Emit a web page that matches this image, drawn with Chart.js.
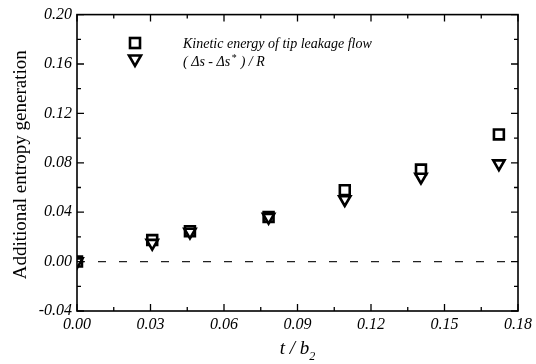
<!DOCTYPE html>
<html>
<head>
<meta charset="utf-8">
<script src="https://cdn.jsdelivr.net/npm/chart.js@4"></script>
<style>
  html, body { margin: 0; padding: 0; background: #fff; }
  #wrap { width: 536px; height: 364px; }
</style>
</head>
<body>
<div id="wrap"><canvas id="chart"></canvas></div>
<script>
// data
const tipGap = [0.0, 0.0307, 0.0461, 0.0782, 0.1093, 0.1404, 0.1722]; // t / b2
const kineticEnergy = [0.0, 0.0174, 0.0246, 0.0362, 0.0578, 0.0745, 0.103];
const entropyDiff = [0.0, 0.0150, 0.0240, 0.0360, 0.0503, 0.0685, 0.0793];
const zeroLine = [0.0, 0.18];
const xTicks = [0.00, 0.03, 0.06, 0.09, 0.12, 0.15, 0.18];
const yTicks = [-0.04, 0.00, 0.04, 0.08, 0.12, 0.16, 0.20];

const serif = '"Liberation Serif", "Times New Roman", serif';

const toPoints = (xs, ys) => xs.map((x, i) => ({ x: x, y: ys[i] }));

// inward ticks on all four sides, frame, axis titles and legend
const decor = {
  id: "decor",
  afterDraw(chart) {
    const { ctx, chartArea: a, scales } = chart;
    const xs = scales.x, ys = scales.y;
    ctx.save();
    ctx.strokeStyle = "#000";
    ctx.lineWidth = 1.6;
    ctx.strokeRect(a.left, a.top, a.right - a.left, a.bottom - a.top);

    ctx.lineWidth = 1.3;
    ctx.beginPath();
    for (let i = 0; i < xTicks.length; i++) {
      const px = xs.getPixelForValue(xTicks[i]);
      ctx.moveTo(px, a.bottom); ctx.lineTo(px, a.bottom - 7);
      ctx.moveTo(px, a.top); ctx.lineTo(px, a.top + 7);
      if (i < xTicks.length - 1) {
        const mx = xs.getPixelForValue((xTicks[i] + xTicks[i + 1]) / 2);
        ctx.moveTo(mx, a.bottom); ctx.lineTo(mx, a.bottom - 4);
        ctx.moveTo(mx, a.top); ctx.lineTo(mx, a.top + 4);
      }
    }
    for (let i = 0; i < yTicks.length; i++) {
      const py = ys.getPixelForValue(yTicks[i]);
      ctx.moveTo(a.left, py); ctx.lineTo(a.left + 7, py);
      ctx.moveTo(a.right, py); ctx.lineTo(a.right - 7, py);
      if (i < yTicks.length - 1) {
        const my = ys.getPixelForValue((yTicks[i] + yTicks[i + 1]) / 2);
        ctx.moveTo(a.left, my); ctx.lineTo(a.left + 4, my);
        ctx.moveTo(a.right, my); ctx.lineTo(a.right - 4, my);
      }
    }
    ctx.stroke();

    ctx.fillStyle = "#000";
    // y axis title
    ctx.save();
    ctx.translate(21, (a.top + a.bottom) / 2 + 2);
    ctx.rotate(-Math.PI / 2);
    ctx.font = "19px " + serif;
    ctx.textAlign = "center";
    ctx.textBaseline = "middle";
    ctx.fillText("Additional entropy generation", 0, 0);
    ctx.restore();

    // x axis title: t / b2
    ctx.font = "italic 19px " + serif;
    ctx.textBaseline = "alphabetic";
    ctx.textAlign = "left";
    const main = "t / b";
    const w = ctx.measureText(main).width;
    const cx = (a.left + a.right) / 2;
    const x0 = cx - (w + 6) / 2;
    ctx.fillText(main, x0, 354);
    ctx.font = "italic 12px " + serif;
    ctx.fillText("2", x0 + w, 360);

    // legend
    const lx = 135;
    ctx.lineWidth = 2.6;
    ctx.fillStyle = "#fff";
    ctx.fillRect(lx - 5, 38, 10, 10);
    ctx.strokeRect(lx - 5, 38, 10, 10);
    ctx.beginPath();
    ctx.moveTo(lx - 6, 55.5);
    ctx.lineTo(lx + 6, 55.5);
    ctx.lineTo(lx, 66);
    ctx.closePath();
    ctx.fill();
    ctx.stroke();

    ctx.fillStyle = "#000";
    ctx.font = "italic 14px " + serif;
    ctx.fillText("Kinetic energy of tip leakage flow", 183, 48);
    let tx = 183;
    const part1 = "( \u0394s - \u0394s";
    ctx.fillText(part1, tx, 66);
    tx += ctx.measureText(part1).width + 1;
    ctx.font = "italic 10px " + serif;
    ctx.fillText("*", tx, 61);
    tx += ctx.measureText("*").width + 1;
    ctx.font = "italic 14px " + serif;
    ctx.fillText(" ) / R", tx, 66);
    ctx.restore();
  }
};

const ctx = document.getElementById("chart").getContext("2d");
const myChart = new Chart(ctx, {
  type: "scatter",
  data: {
    datasets: [
      {
        type: "line",
        label: "zero",
        data: toPoints(zeroLine, [0, 0]),
        borderColor: "#222",
        borderWidth: 1.3,
        borderDash: [8, 13],
        pointRadius: 0,
        fill: false,
        order: 3,
      },
      {
        label: "Kinetic energy of tip leakage flow",
        data: toPoints(tipGap, kineticEnergy),
        pointStyle: "rect",
        pointRadius: 7,
        pointBorderWidth: 2.6,
        borderColor: "#000",
        backgroundColor: "#fff",
        order: 2,
      },
      {
        label: "(Δs - Δs*) / R",
        data: toPoints(tipGap, entropyDiff),
        pointStyle: "triangle",
        rotation: 180,
        pointRadius: 6.5,
        pointBorderWidth: 2.6,
        borderColor: "#000",
        backgroundColor: "#fff",
        order: 1,
      },
    ],
  },
  options: {
    responsive: true,
    maintainAspectRatio: false,
    animation: false,
    layout: { padding: { top: 14, right: 15, left: 0, bottom: 0 } },
    plugins: {
      legend: { display: false },
      tooltip: { enabled: false },
    },
    scales: {
      x: {
        type: "linear",
        min: 0,
        max: 0.18,
        afterBuildTicks: (s) => { s.ticks = xTicks.map((v) => ({ value: v })); },
        afterFit: (s) => { s.height = 53; },
        grid: { display: false, drawTicks: false },
        border: { display: false },
        ticks: {
          padding: 4,
          color: "#000",
          font: { family: serif, size: 16, style: "italic" },
          callback: (v) => v.toFixed(2),
        },
      },
      y: {
        type: "linear",
        min: -0.04,
        max: 0.20,
        afterBuildTicks: (s) => { s.ticks = yTicks.map((v) => ({ value: v })); },
        afterFit: (s) => { s.width = 77; },
        grid: { display: false, drawTicks: false },
        border: { display: false },
        ticks: {
          padding: 5,
          color: "#000",
          font: { family: serif, size: 16, style: "italic" },
          callback: (v) => v.toFixed(2),
        },
      },
    },
  },
  plugins: [decor],
});
</script>
</body>
</html>
